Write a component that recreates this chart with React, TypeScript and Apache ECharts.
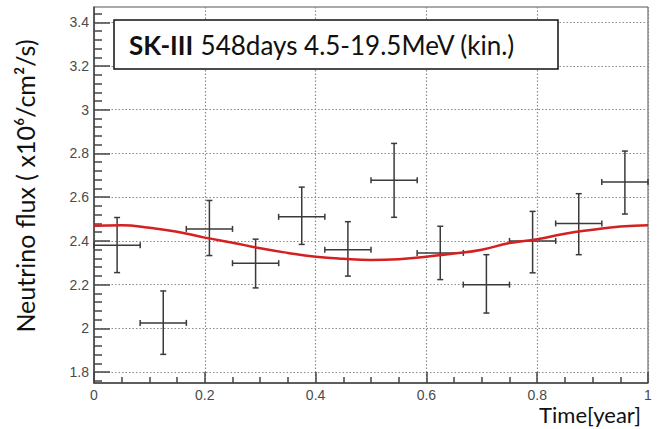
import React, { useEffect, useRef } from "react";
import * as echarts from "echarts";

// Time bins (fraction of a year)
const binCenters = [0.0417, 0.125, 0.2083, 0.2917, 0.375, 0.4583, 0.5417, 0.625, 0.7083, 0.7917, 0.875, 0.9583];
const binHalfWidths = [0.0417, 0.0417, 0.0417, 0.0417, 0.0417, 0.0417, 0.0417, 0.0417, 0.0417, 0.0417, 0.0417, 0.0417];
// Neutrino flux (x10^6 /cm^2/s)
const fluxValues = [2.38, 2.025, 2.455, 2.298, 2.51, 2.36, 2.678, 2.345, 2.2, 2.4, 2.48, 2.67];
const fluxErrUp = [0.127, 0.146, 0.13, 0.11, 0.136, 0.128, 0.168, 0.122, 0.137, 0.135, 0.136, 0.141];
const fluxErrDown = [0.125, 0.144, 0.122, 0.113, 0.126, 0.121, 0.17, 0.122, 0.13, 0.146, 0.143, 0.147];

// Expected curve
const curveTime = [0, 0.05, 0.1, 0.15, 0.2, 0.25, 0.3, 0.35, 0.4, 0.45, 0.5, 0.55, 0.6, 0.65, 0.7, 0.75, 0.8, 0.85, 0.9, 0.95, 1.0];
const curveFlux = [2.469, 2.472, 2.46, 2.442, 2.415, 2.392, 2.366, 2.345, 2.328, 2.318, 2.313, 2.316, 2.328, 2.342, 2.36, 2.39, 2.408, 2.433, 2.451, 2.466, 2.472];

// Axis ticks
const xTickValues = [0, 0.2, 0.4, 0.6, 0.8, 1];
const xTickLabels = ["0", "0.2", "0.4", "0.6", "0.8", "1"];
const yTickValues = [1.8, 2.0, 2.2, 2.4, 2.6, 2.8, 3.0, 3.2, 3.4];
const yTickLabels = ["1.8", "2", "2.2", "2.4", "2.6", "2.8", "3", "3.2", "3.4"];
const yMinorTickValues = [
  1.76, 1.84, 1.88, 1.92, 1.96, 2.04, 2.08, 2.12, 2.16, 2.24, 2.28, 2.32, 2.36,
  2.44, 2.48, 2.52, 2.56, 2.64, 2.68, 2.72, 2.76, 2.84, 2.88, 2.92, 2.96,
  3.04, 3.08, 3.12, 3.16, 3.24, 3.28, 3.32, 3.36, 3.44,
];

const Y_MIN = 1.75;
const Y_MAX = 3.47;

const labelText = (values: number[], labels: string[], v: number) => {
  const i = values.findIndex((t) => Math.abs(t - v) < 1e-6);
  return i >= 0 ? labels[i] : "";
};

export default function App() {
  const ref = useRef<HTMLDivElement>(null);

  useEffect(() => {
    if (!ref.current) return;
    const chart = echarts.init(ref.current, undefined, { renderer: "svg" });

    const errData = binCenters.map((x, i) => [x, fluxValues[i], binHalfWidths[i], fluxErrDown[i], fluxErrUp[i]]);
    const curveData = curveTime.map((t, i) => [t, curveFlux[i]]);

    const axisLabelStyle = {
      color: "#4a4a4a",
      fontFamily: "Liberation Sans",
      fontSize: 14,
      lineHeight: 14,
    };
    const gridLine = { show: true, lineStyle: { color: "#8a8a8a", type: [1.5, 2], width: 1.2 } };

    chart.setOption({
      animation: false,
      backgroundColor: "#ffffff",
      grid: {
        left: 94,
        right: 12,
        top: 7,
        bottom: 46,
        show: true,
        borderColor: "#555",
        borderWidth: 1,
        backgroundColor: "transparent",
      },
      xAxis: {
        type: "value",
        min: 0,
        max: 1,
        interval: 0.2,
        axisLine: { show: true, lineStyle: { color: "#444", width: 1.5 } },
        axisTick: { show: true, inside: true, length: 11, lineStyle: { color: "#444", width: 1.5 } },
        minorTick: { show: true, splitNumber: 4, length: 6, lineStyle: { color: "#444", width: 1.5 } },
        axisLabel: {
          ...axisLabelStyle,
          margin: 5,
          formatter: (v: number) => labelText(xTickValues, xTickLabels, v),
        },
        splitLine: gridLine,
      },
      yAxis: [
        {
          type: "value",
          min: Y_MIN,
          max: Y_MAX,
          axisLine: { show: true, lineStyle: { color: "#444", width: 1.5 } },
          axisTick: {
            show: true,
            inside: true,
            length: 16,
            customValues: yTickValues,
            lineStyle: { color: "#444", width: 1.5 },
          },
          axisLabel: {
            ...axisLabelStyle,
            margin: 5,
            customValues: yTickValues,
            formatter: (v: number) => labelText(yTickValues, yTickLabels, v),
          },
          splitLine: gridLine,
        },
        {
          type: "value",
          min: Y_MIN,
          max: Y_MAX,
          position: "left",
          axisLine: { show: false },
          axisTick: {
            show: true,
            inside: true,
            length: 8,
            customValues: yMinorTickValues,
            lineStyle: { color: "#444", width: 1.5 },
          },
          axisLabel: { show: false },
          splitLine: { show: false },
        },
      ],
      series: [
        {
          type: "custom",
          xAxisIndex: 0,
          yAxisIndex: 0,
          data: errData,
          encode: { x: 0, y: 1 },
          z: 3,
          renderItem: (params: any, api: any) => {
            const x = api.value(0);
            const y = api.value(1);
            const xe = api.value(2);
            const lo = api.value(3);
            const hi = api.value(4);
            const c = api.coord([x, y]);
            const l = api.coord([x - xe, y]);
            const r = api.coord([x + xe, y]);
            const t = api.coord([x, y + hi]);
            const b = api.coord([x, y - lo]);
            const style = { stroke: "#3a3a3a", lineWidth: 1.5 };
            const cap = 3;
            return {
              type: "group",
              children: [
                { type: "line", shape: { x1: l[0], y1: c[1], x2: r[0], y2: c[1] }, style },
                { type: "line", shape: { x1: c[0], y1: t[1], x2: c[0], y2: b[1] }, style },
                { type: "line", shape: { x1: c[0] - cap, y1: t[1], x2: c[0] + cap, y2: t[1] }, style },
                { type: "line", shape: { x1: c[0] - cap, y1: b[1], x2: c[0] + cap, y2: b[1] }, style },
                { type: "line", shape: { x1: l[0], y1: c[1] - cap, x2: l[0], y2: c[1] + cap }, style },
                { type: "line", shape: { x1: r[0], y1: c[1] - cap, x2: r[0], y2: c[1] + cap }, style },
              ],
            };
          },
        },
        {
          type: "line",
          xAxisIndex: 0,
          yAxisIndex: 0,
          data: curveData,
          smooth: true,
          showSymbol: false,
          z: 4,
          lineStyle: { color: "#d42020", width: 2.5 },
        },
      ],
      graphic: [
        {
          type: "rect",
          shape: { x: 114, y: 20, width: 444, height: 49 },
          style: { fill: "#ffffff", stroke: "#111", lineWidth: 1.5 },
          z: 10,
        },
        {
          type: "text",
          x: 129,
          y: 45,
          z: 11,
          style: {
            text: "{b|SK-III} {n|548days 4.5-19.5MeV (kin.)}",
            verticalAlign: "middle",
            align: "left",
            rich: {
              b: { fontFamily: "Lato", fontWeight: "bold", fontSize: 26, fill: "#111", padding: [0, 4, 0, 0] },
              n: { fontFamily: "Lato", fontSize: 26, fill: "#111" },
            },
          },
        },
        {
          type: "text",
          x: 25,
          y: 186,
          rotation: Math.PI / 2,
          z: 11,
          style: {
            text: "Neutrino flux ( x10⁶/cm²/s)",
            fontFamily: "Lato",
            fontSize: 25,
            fill: "#111",
            align: "center",
            verticalAlign: "middle",
          },
        },
        {
          type: "text",
          x: 641,
          y: 414,
          z: 11,
          style: {
            text: "Time[year]",
            fontFamily: "Lato",
            fontSize: 22,
            lineHeight: 21,
            fill: "#111",
            align: "right",
            verticalAlign: "middle",
          },
        },
      ],
    });

    return () => chart.dispose();
  }, []);

  return (
    <div
      ref={ref}
      style={{ position: "fixed", left: 0, top: 0, width: 660, height: 429, background: "#fff" }}
    />
  );
}
